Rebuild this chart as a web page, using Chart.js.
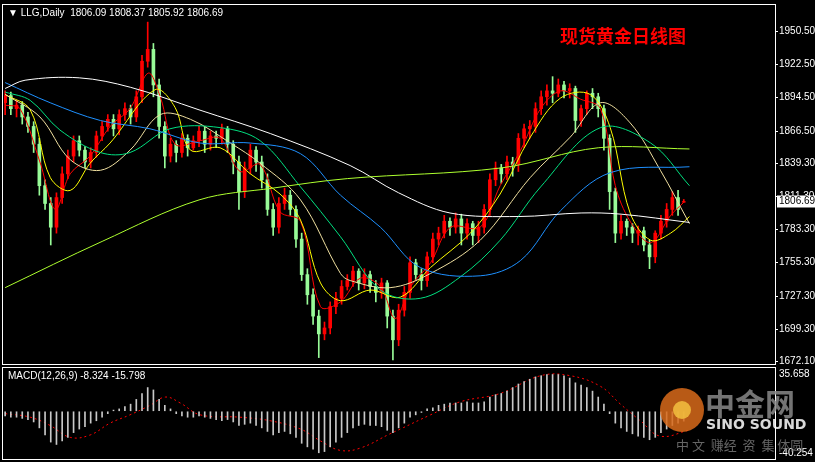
<!DOCTYPE html>
<html>
<head>
<meta charset="utf-8">
<script src="https://cdn.jsdelivr.net/npm/chart.js@4"></script>
<style>
  html, body { margin: 0; padding: 0; background: #000; }
  #wrap { position: relative; width: 815px; height: 462px; background: #000; overflow: hidden; }
  .pane { position: absolute; left: 0; width: 815px; }
</style>
</head>
<body>
<div id="wrap">
  <div class="pane" style="top:0;height:366px"><canvas id="main"></canvas></div>
  <div class="pane" style="top:366px;height:96px"><canvas id="macd"></canvas></div>
</div>
<script>
// daily candles, index 0..119
var opens = [1890,1896,1885,1888,1878,1870,1855,1820,1805,1785,
  1810,1830,1845,1858,1850,1840,1848,1862,1870,1876,
  1868,1880,1885,1878,1895,1925,1935,1905,1870,1845,
  1855,1848,1860,1852,1858,1866,1855,1862,1860,1868,
  1855,1840,1815,1835,1850,1840,1825,1800,1785,1805,
  1812,1800,1775,1745,1728,1710,1695,1700,1718,1725,
  1735,1740,1748,1738,1745,1735,1730,1738,1710,1690,
  1715,1730,1755,1745,1740,1760,1775,1780,1790,1785,
  1792,1780,1788,1778,1785,1800,1825,1835,1830,1840,
  1838,1860,1868,1870,1885,1895,1900,1898,1905,1900,
  1902,1875,1885,1898,1895,1885,1860,1815,1780,1790,
  1785,1780,1782,1770,1760,1780,1790,1800,1810,1806.09];
var highs = [1900,1899,1892,1891,1882,1874,1860,1825,1810,1814,
  1836,1850,1862,1862,1853,1852,1866,1874,1880,1880,
  1884,1890,1888,1900,1930,1958,1940,1910,1874,1860,
  1858,1864,1863,1862,1870,1870,1866,1866,1872,1870,
  1858,1845,1840,1855,1853,1845,1830,1805,1810,1818,
  1816,1803,1780,1750,1733,1715,1705,1722,1730,1740,
  1745,1752,1750,1750,1748,1740,1742,1740,1715,1720,
  1735,1760,1758,1750,1764,1780,1785,1795,1793,1797,
  1796,1792,1790,1790,1804,1830,1840,1838,1845,1844,
  1864,1872,1875,1890,1900,1905,1912,1910,1908,1906,
  1904,1888,1900,1902,1898,1888,1863,1818,1795,1792,
  1788,1786,1785,1774,1782,1795,1805,1815,1816,1808.37];
var lows = [1880,1880,1878,1872,1865,1848,1812,1800,1770,1780,
  1805,1826,1840,1845,1835,1835,1844,1858,1866,1862,
  1863,1875,1872,1874,1890,1920,1895,1860,1835,1840,
  1840,1844,1845,1850,1853,1848,1850,1852,1855,1848,
  1830,1800,1810,1830,1832,1818,1795,1778,1780,1800,
  1795,1768,1740,1720,1703,1675,1690,1695,1712,1720,
  1732,1735,1732,1733,1730,1722,1725,1700,1673,1685,
  1710,1725,1740,1732,1735,1755,1770,1776,1778,1780,
  1770,1775,1770,1772,1780,1795,1820,1822,1825,1828,
  1832,1852,1860,1865,1880,1888,1890,1895,1894,1894,
  1865,1870,1880,1885,1878,1850,1800,1772,1775,1778,
  1772,1770,1765,1750,1755,1775,1785,1795,1795,1805.92];
var closes = [1896,1885,1888,1878,1870,1855,1820,1805,1785,1810,
  1830,1845,1858,1850,1840,1848,1862,1870,1876,1868,
  1880,1885,1878,1895,1925,1935,1905,1870,1845,1855,
  1848,1860,1852,1858,1866,1855,1862,1860,1868,1855,
  1840,1815,1835,1850,1840,1825,1800,1785,1805,1812,
  1800,1775,1745,1728,1710,1695,1700,1718,1725,1735,
  1740,1748,1738,1745,1735,1730,1738,1710,1690,1715,
  1730,1755,1745,1740,1760,1775,1780,1790,1785,1792,
  1780,1788,1778,1785,1800,1825,1835,1830,1840,1838,
  1860,1868,1870,1885,1895,1900,1898,1905,1900,1902,
  1875,1885,1898,1895,1885,1860,1815,1780,1790,1785,
  1780,1782,1770,1760,1780,1790,1800,1810,1800,1806.69];

// moving averages: [index, price]
var ma5 = [[0,1888],[2.6,1885],[6.1,1840],[8.8,1800],[11.4,1830],[14.9,1845],[18.4,1870],[21.9,1885],[25.1,1915],[27.2,1895],[29.8,1855],[34.2,1858],[37.7,1860],[41.2,1832],[44.7,1838],[48.2,1798],[51.8,1790],[55.3,1718],[58.8,1722],[62.3,1742],[65.8,1735],[68.4,1708],[71.1,1735],[74.6,1755],[78.1,1785],[83.3,1785],[86.8,1820],[90.4,1850],[93.9,1885],[97.4,1900],[100.9,1893],[104.4,1885],[107,1820],[109.6,1790],[113.2,1772],[116.7,1795],[119,1806]];
var ma10 = [[0,1897],[4.4,1884],[7.9,1827],[11.4,1816],[14.9,1839],[18.4,1856],[26.3,1901],[29.8,1886],[32.5,1850],[37.7,1852],[43,1830],[48.2,1813],[51.8,1791],[55.3,1738],[58.8,1723],[64,1732],[69.3,1726],[74.6,1751],[81.6,1780],[86.8,1813],[92.1,1861],[97.4,1894],[102.6,1897],[106.1,1869],[109.6,1797],[113.2,1774],[116.7,1780],[120,1794]];
var ma20 = [[0,1897],[6.1,1878],[11.4,1842],[16.7,1833],[21.9,1850],[27.2,1880],[32.5,1876],[39.5,1856],[44.7,1839],[51.8,1808],[58.8,1746],[60.5,1740],[67.5,1734],[74.6,1746],[83.3,1774],[92.1,1827],[99.1,1861],[104.4,1890],[109.6,1873],[114.9,1833],[120,1788]];
var ma30 = [[0,1899],[4.4,1892],[9.6,1867],[16.7,1848],[21.9,1848],[28.9,1868],[37.7,1869],[44.7,1858],[51.8,1819],[58.8,1777],[65.8,1732],[72.8,1725],[79.8,1743],[86.8,1774],[93.9,1819],[104.4,1869],[113.2,1856],[120,1820]];
var ma60 = [[0,1907],[7.9,1890],[16.7,1875],[25.4,1868],[34.2,1856],[43,1856],[51.8,1847],[58.8,1812],[65.8,1785],[72.8,1751],[83.3,1744],[90.4,1757],[97.4,1799],[106.1,1831],[120,1836]];
var ma120 = [[0,1902],[3.5,1909],[13,1911],[22,1903],[34,1884],[46.5,1864],[60.5,1837],[69,1814],[78,1797],[90,1794],[101,1797],[108,1796],[120,1789]];
var ma200 = [[0,1734],[17,1773],[34,1808],[47,1818],[60,1826],[87,1835],[104,1852],[120,1851]];

// MACD(12,26,9): histogram = main line, dashed = signal
var macdMain = [-4,-5,-5,-6,-7,-9,-14,-20,-26,-28,
  -25,-22,-18,-15,-13,-10,-8,-5,-2,1,
  2,4,6,10,15,20,18,10,5,2,
  -2,-4,-5,-5,-4,-5,-6,-7,-8,-7,
  -9,-12,-11,-10,-12,-14,-17,-20,-18,-17,
  -19,-22,-27,-30,-32,-35,-34,-30,-26,-22,
  -18,-14,-12,-11,-12,-12,-13,-16,-18,-14,
  -10,-5,-3,-1,2,3,5,6,7,7,
  7,8,7,7,8,12,14,15,17,20,
  23,25,27,29,30,31,31,31,30,28,
  24,22,20,17,12,6,-2,-10,-14,-17,
  -19,-21,-22,-24,-22,-18,-15,-12,-10,-8.324];
var macdSignal = [[0,-2],[4.4,-5],[7.9,-12],[11.4,-22],[14.9,-20],[18.4,-10],[21.9,-3],[25.4,5],[28.1,12],[30.7,7],[34.2,-3],[41.2,-5],[46.5,-8],[51.8,-15],[55.3,-25],[58.8,-33],[62.3,-31],[67.5,-19],[69.3,-15],[74.6,-3],[79.8,8],[86.8,15],[93.9,30],[99.1,30],[104.4,21],[107.9,6],[111.4,-8],[114.9,-21],[120,-15.798]];

var priceTicks = [1950.50, 1922.50, 1894.50, 1866.50, 1839.30, 1811.30, 1783.30, 1755.30, 1727.30, 1699.30, 1672.10];
var macdTicks = [35.658, -40.254];
var lastPrice = 1806.69;

var UP = '#ff0000', DOWN = '#98fb98';
var FONT_CSS = '10px "Liberation Sans", Arial, sans-serif';

function pts(a) { return a.map(function(p) { return { x: p[0], y: p[1] }; }); }
function candleColor(i) { return closes[i] >= opens[i] ? UP : DOWN; }

var bodies = closes.map(function(c, i) { return { x: i, y: [opens[i], c === opens[i] ? c + 0.6 : c] }; });
var wicks = closes.map(function(c, i) { return { x: i, y: [lows[i], highs[i]] }; });
var colors = closes.map(function(c, i) { return candleColor(i); });

function maLine(data, color) {
  return { type: 'line', data: pts(data), borderColor: color, borderWidth: 1, pointRadius: 0, tension: 0.35 };
}

var frame = {
  id: 'frame',
  afterDraw: function(chart) {
    var a = chart.chartArea, ctx = chart.ctx;
    ctx.save();
    ctx.strokeStyle = '#fff';
    ctx.lineWidth = 1;
    ctx.strokeRect(a.left - 1.5, a.top - 1.5, a.right - a.left + 2, a.bottom - a.top + 2);
    ctx.restore();
  }
};

var mainDecor = {
  id: 'mainDecor',
  afterDraw: function(chart) {
    var ctx = chart.ctx, y = chart.scales.y, a = chart.chartArea;
    ctx.save();
    ctx.textBaseline = 'middle';
    ctx.font = FONT_CSS;
    // price scale ticks and labels
    ctx.strokeStyle = '#fff';
    ctx.fillStyle = '#fff';
    priceTicks.forEach(function(v) {
      var py = Math.round(y.getPixelForValue(v)) + 0.5;
      ctx.beginPath(); ctx.moveTo(a.right, py); ctx.lineTo(a.right + 3, py); ctx.stroke();
      ctx.fillText(v.toFixed(2), a.right + 4, py);
    });
    ctx.fillText('\u25BC LLG,Daily  1806.09 1808.37 1805.92 1806.69', 8, 13);
    ctx.fillStyle = '#ff0000';
    ctx.font = 'bold 18px "Noto Sans CJK SC", serif';
    ctx.fillText('现货黄金日线图', 560, 36);
    var py = y.getPixelForValue(lastPrice);
    ctx.fillStyle = '#fff';
    ctx.fillRect(777, py - 6, 38, 12);
    ctx.fillStyle = '#000';
    ctx.font = FONT_CSS;
    ctx.fillText(lastPrice.toFixed(2), 779, py);
    ctx.restore();
  }
};

var macdDecor = {
  id: 'macdDecor',
  afterDraw: function(chart) {
    var ctx = chart.ctx;
    ctx.save();
    ctx.font = FONT_CSS;
    ctx.textBaseline = 'middle';
    ctx.fillStyle = '#fff';
    ctx.fillText('MACD(12,26,9) -8.324 -15.798', 8, 10);
    ctx.fillText(macdTicks[0].toFixed(3), 779, 8);
    ctx.fillText(macdTicks[1].toFixed(3), 779, 87);
    // watermark
    ctx.globalAlpha = 0.85;
    ctx.fillStyle = '#d86a1a';
    ctx.beginPath(); ctx.arc(682, 44, 22, 0, Math.PI * 2); ctx.fill();
    ctx.fillStyle = '#f2c040';
    ctx.beginPath(); ctx.arc(682, 44, 9, 0, Math.PI * 2); ctx.fill();
    ctx.fillStyle = '#888';
    ctx.font = 'bold 30px "Noto Sans CJK SC", sans-serif';
    ctx.fillText('中金网', 705, 38);
    ctx.fillStyle = '#fff';
    ctx.font = 'bold 14px "DejaVu Sans", sans-serif';
    ctx.fillText('SINO SOUND', 706, 59);
    ctx.fillStyle = '#777';
    ctx.font = '13px "Noto Sans CJK SC", sans-serif';
    ctx.fillText('中 文  赚经  资  集 体圆', 676, 79);
    ctx.restore();
  }
};

function fixWidth(axis) { axis.width = 40; }

new Chart(document.getElementById('main'), {
  data: {
    datasets: [
      { type: 'bar', data: wicks, backgroundColor: colors, barThickness: 1, grouped: false, order: 2 },
      { type: 'bar', data: bodies, backgroundColor: colors, barThickness: 3, grouped: false, order: 1 },
      maLine(ma200, '#adff2f'),
      maLine(ma120, '#ffffff'),
      maLine(ma60, '#1e90ff'),
      maLine(ma30, '#00e080'),
      maLine(ma20, '#f0e0a0'),
      maLine(ma10, '#ffff00'),
      maLine(ma5, '#ff0000')
    ]
  },
  options: {
    responsive: true, maintainAspectRatio: false, animation: false,
    layout: { padding: { left: 4, top: 6, bottom: 2, right: 0 } },
    plugins: { legend: { display: false }, tooltip: { enabled: false } },
    scales: {
      x: { type: 'linear', min: -0.2, max: 135, offset: false, display: false },
      y: {
        position: 'right', min: 1669.6, max: 1971.6,
        afterFit: fixWidth,
        ticks: { display: false },
        grid: { drawOnChartArea: false, drawTicks: false },
        border: { color: '#fff' }
      }
    }
  },
  plugins: [frame, mainDecor]
});

new Chart(document.getElementById('macd'), {
  data: {
    datasets: [
      { type: 'bar', data: macdMain.map(function(v, i) { return { x: i, y: v }; }), backgroundColor: '#c8c8c8', barThickness: 1 },
      { type: 'line', data: pts(macdSignal), borderColor: '#ff0000', borderWidth: 1, borderDash: [2, 3], pointRadius: 0, tension: 0.4 }
    ]
  },
  options: {
    responsive: true, maintainAspectRatio: false, animation: false,
    layout: { padding: { left: 4, top: 3, bottom: 3, right: 0 } },
    plugins: { legend: { display: false }, tooltip: { enabled: false } },
    scales: {
      x: { type: 'linear', min: -0.2, max: 135, offset: false, display: false },
      y: {
        position: 'right', min: -40.254, max: 35.658,
        afterFit: fixWidth,
        ticks: { display: false },
        grid: { drawOnChartArea: false, drawTicks: false },
        border: { color: '#fff' }
      }
    }
  },
  plugins: [frame, macdDecor]
});
</script>
</body>
</html>
